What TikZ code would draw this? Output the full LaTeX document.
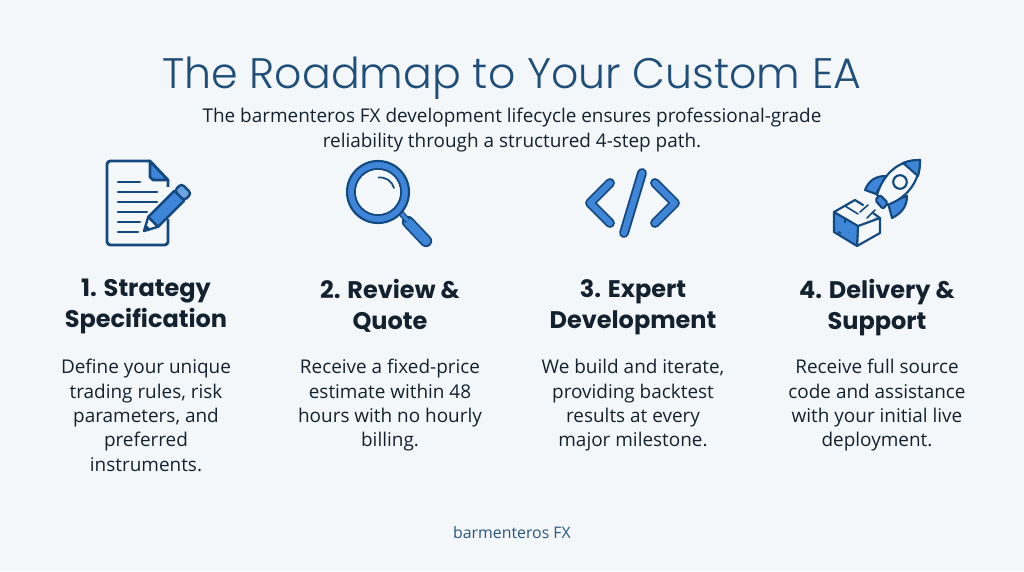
\documentclass[tikz,border=0pt]{standalone}
\usepackage{fontspec}
\setmainfont{Open Sans}
\newfontfamily\headfont{Poppins}
\newfontfamily\titlefont{Poppins Light}
\definecolor{bgc}{HTML}{F3F7FA}
\definecolor{dk}{HTML}{14497F}
\definecolor{md}{HTML}{3F86D8}
\definecolor{lt}{HTML}{F4F8FB}
\definecolor{ttl}{HTML}{1F4E79}
\definecolor{ink}{HTML}{14212F}
\definecolor{foot}{HTML}{2B5680}
\tikzset{
 titletxt/.style={inner sep=0pt,text=ttl,font=\titlefont\fontsize{32}{38}\selectfont},
 subtxt/.style={inner sep=0pt,text=ink,align=center,font=\fontsize{14.2}{18.5}\selectfont},
 headtxt/.style={inner sep=0pt,text=ink,align=center,font=\headfont\fontsize{18}{23.2}\selectfont\bfseries},
 bodytxt/.style={inner sep=0pt,text=ink,align=center,font=\fontsize{14.2}{18.3}\selectfont},
 foottxt/.style={inner sep=0pt,text=foot,font=\fontsize{11.9}{13}\selectfont},
 ic/.style={draw=dk,line width=2.1pt,line join=round,line cap=round},
 thin/.style={draw=dk,line width=1.6pt,line join=round,line cap=round},
 docline/.style={draw=dk,line width=2pt,line cap=round},
 codeo/.style={draw=dk,line width=7.4pt,line cap=round,line join=round},
 codei/.style={draw=md,line width=4.6pt,line cap=round,line join=round},
}
\begin{document}
\begin{tikzpicture}[x=0.75pt,y=-0.75pt]
\useasboundingbox (0,0) rectangle (1024,571);
\fill[bgc] (0,0) rectangle (1024,571);
% texts
\node[titletxt] (title) at (512,78) {The Roadmap to Your Custom EA};
\node[subtxt] (sub) at (512,130) {The barmenteros FX development lifecycle ensures professional-grade\\reliability through a structured 4-step path.};
\node[headtxt,anchor=north] (h1) at (146,279) {1. Strategy\\Specification};
\node[headtxt,anchor=north] (h2) at (390,279) {2. Review \&\\Quote};
\node[headtxt,anchor=north] (h3) at (633,279) {3. Expert\\Development};
\node[headtxt,anchor=north] (h4) at (877,279) {4. Delivery \&\\Support};
\node[bodytxt,anchor=north] (b1) at (146,359) {Define your unique\\trading rules, risk\\parameters, and\\preferred\\instruments.};
\node[bodytxt,anchor=north] (b2) at (390,359) {Receive a fixed-price\\estimate within 48\\hours with no hourly\\billing.};
\node[bodytxt,anchor=north] (b3) at (633,359) {We build and iterate,\\providing backtest\\results at every\\major milestone.};
\node[bodytxt,anchor=north] (b4) at (877,359) {Receive full source\\code and assistance\\with your initial live\\deployment.};
\node[foottxt] (foot) at (512,533) {barmenteros FX};
% document icon
\draw[ic,fill=lt,rounded corners=2.5pt] (150,161) -- (107,161) -- (107,245) -- (168,245) -- (168,180);
\draw[ic,fill=md] (150,161) -- (168,180) -- (153,180) -- (150,177) -- cycle;
\foreach \y/\e in {182/140,192/157,202/157,212/147,222/140,232/138}{\draw[docline] (118,\y) -- (\e,\y);}
\fill[lt] (164,187) rectangle (172,219);
\begin{scope}[shift={(144,231)},rotate=45]
 \draw[ic,fill=lt,line width=1.8pt] (0,0) -- (13,-7) -- (13,7) -- cycle;
 \fill[dk] (0,0) -- (6,-3.2) -- (6,3.2) -- cycle;
 \draw[ic,fill=md,line width=1.8pt] (13,-7) -- (50,-7) -- (50,7) -- (13,7) -- cycle;
 \draw[ic,fill=md!75!white,line width=1.8pt,rounded corners=2.5pt] (50,-7) -- (60,-7) -- (60,7) -- (50,7) -- cycle;
\end{scope}
% magnifier icon
\draw[dk,line width=9.2pt,line cap=round] (408,222) -- (426,241);
\draw[md,line width=6.6pt,line cap=round] (408,222) -- (426,241);
\draw[dk,line width=4.5pt] (400,212) -- (408,221);
\draw[md,line width=2.5pt] (400,212) -- (408,221);
\draw[thin,fill=md,even odd rule] (378,192) circle[radius=31] (378,192) circle[radius=23];
\fill[lt] (378,192) circle[radius=22];
\draw[dk,line width=1.3pt,line cap=round] (378.5,177.5) .. controls (386,177) and (392,181) .. (394,188);
% code icon
\draw[codeo] (610,183) -- (590,203) -- (610,223);
\draw[codei] (610,183) -- (590,203) -- (610,223);
\draw[codeo] (655,183) -- (675,203) -- (655,223);
\draw[codei] (655,183) -- (675,203) -- (655,223);
\draw[codeo] (642,173) -- (624,233);
\draw[codei] (642,173) -- (624,233);
% rocket icon
\draw[thin,fill=md] (865,190) .. controls (869,180) and (876,176) .. (886,176) -- (876,194) -- cycle;
\draw[thin,fill=md] (892,218) .. controls (902,213) and (907,206) .. (907,196) -- (888,203) -- cycle;
\draw[thin,fill=lt] (920,160) .. controls (900,160) and (884,172) .. (877,195) -- (887,205) .. controls (908,198) and (920,180) .. (920,160) -- cycle;
\draw[thin,fill=md] (920,160) .. controls (913,160) and (908,161) .. (903,163) -- (918,176) .. controls (919,172) and (920,168) .. (920,160) -- cycle;
\draw[thin,fill=md,rounded corners=1.5pt] (875,200) -- (880,195) -- (888,203) -- (883,209) -- cycle;
\draw[thin,fill=lt] (900,182) circle[radius=6.8];
\draw[thin,line width=1.2pt] (868,205) -- (860,212);
\draw[thin,line width=1.2pt] (875,210) -- (867,218);
\draw[md!55!white,line width=1.6pt,line cap=round] (876,218) -- (869,225);
% box icon
\draw[thin,fill=lt] (858,226) -- (880,218) -- (880,233) -- (857,246) -- cycle;
\draw[thin,fill=md] (834,212) -- (858,226) -- (857,246) -- (834,232) -- cycle;
\draw[thin] (834,212) -- (855,200) -- (863,205);
\draw[thin] (880,218) -- (873,213);
\draw[thin,line width=1.2pt] (845,206) -- (858,214);
\draw[dk,line width=1.1pt] (845,219) -- (845,223);
\draw[dk,line width=1.3pt] (838,232) -- (841,233);
\end{tikzpicture}
\end{document}
